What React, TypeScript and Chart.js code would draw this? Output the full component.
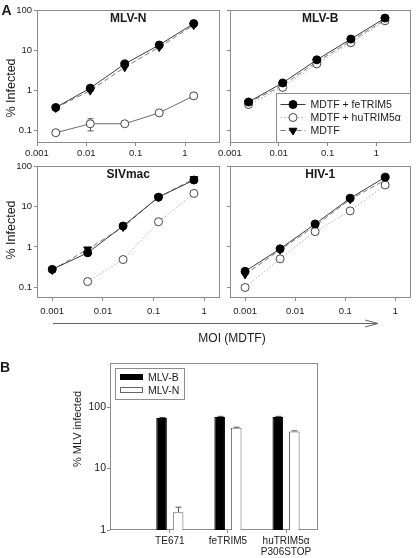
import React, { useEffect, useRef } from "react";
import { Chart, registerables } from "chart.js";

Chart.register(...registerables);

const FONT = "'Liberation Sans', Arial, Helvetica, sans-serif";
const TEXT = "#1a1a1a";
const AXIS = "#8c8c8c";

// ---------- Panel A data ----------
const X_TICKS_A = [0.001, 0.01, 0.1, 1];
const Y_TICKS_A = [0.1, 1, 10, 100];
const MOI_TOP = [0.0024, 0.012, 0.06, 0.3, 1.5];
const MOI_BOTTOM = [0.001, 0.005, 0.025, 0.125, 0.625];

const SERIES_LABELS = ["MDTF + feTRIM5", "MDTF + huTRIM5\u03b1", "MDTF"];

const MLVN_FE = [0.38, 1.15, 4.6, 13.5, 46];
const MLVN_HU = [0.09, 0.15, 0.15, 0.28, 0.74];
const MLVN_HU_ERR = [0, 0.05, 0, 0, 0];
const MLVN_MDTF = [0.37, 1.0, 3.8, 12, 42];

const MLVB_FE = [0.52, 1.55, 5.8, 19, 63];
const MLVB_HU = [0.45, 1.2, 4.6, 15.4, 54];
const MLVB_MDTF = [0.5, 1.35, 5.2, 17, 57];

const SIV_FE = [0.28, 0.72, 3.3, 17, 45];
const SIV_HU = [null, 0.14, 0.49, 4.2, 21];
const SIV_MDTF = [0.27, 0.88, 3.1, 17, 48];

const HIV_FE = [0.25, 0.9, 3.7, 16, 53];
const HIV_HU = [0.1, 0.51, 2.4, 7.8, 34];
const HIV_MDTF = [0.21, 0.85, 3.3, 15, 45];

// ---------- Panel B data ----------
const B_CATEGORIES: (string | string[])[] = ["TE671", "feTRIM5", ["huTRIM5\u03b1", "P306STOP"]];
const B_SERIES = ["MLV-B", "MLV-N"];
const B_MLVB = [66, 69, 69];
const B_MLVB_ERR = [1.5, 1.5, 1.5];
const B_MLVN = [1.95, 46, 40];
const B_MLVN_ERR = [0.4, 1, 1];
const Y_TICKS_B = [1, 10, 100];

// ---------- helpers ----------
const xy = (xs: number[], ys: (number | null)[]) => ys.map((y, i) => ({ x: xs[i], y }));

function drawMarker(ctx: CanvasRenderingContext2D, style: string, x: number, y: number, r: number, fill: string, stroke: string, rotDeg: number) {
  ctx.beginPath();
  if (style === "triangle") {
    let rad = (rotDeg * Math.PI) / 180;
    const step = (2 * Math.PI) / 3;
    ctx.moveTo(x + Math.sin(rad) * r, y - Math.cos(rad) * r);
    rad += step;
    ctx.lineTo(x + Math.sin(rad) * r, y - Math.cos(rad) * r);
    rad += step;
    ctx.lineTo(x + Math.sin(rad) * r, y - Math.cos(rad) * r);
    ctx.closePath();
  } else {
    ctx.arc(x, y, r, 0, Math.PI * 2);
  }
  ctx.fillStyle = fill;
  ctx.fill();
  ctx.lineWidth = 1;
  ctx.strokeStyle = stroke;
  ctx.setLineDash([]);
  ctx.stroke();
}

function makeLineDatasets(xs: number[], fe: (number | null)[], hu: (number | null)[], mdtf: (number | null)[], huErr?: number[], huSolid?: boolean) {
  return [
    {
      label: SERIES_LABELS[0],
      data: xy(xs, fe),
      borderColor: "#3a3a3a",
      borderWidth: 1,
      borderDash: [],
      pointStyle: "circle",
      pointRotation: 0,
      pointRadius: 4,
      pointBackgroundColor: "#000",
      pointBorderColor: "#000",
      pointBorderWidth: 1,
    },
    {
      label: SERIES_LABELS[1],
      data: xy(xs, hu),
      errors: huErr,
      borderColor: huSolid ? "#6a6a6a" : "#b0b0b0",
      borderWidth: 1,
      borderDash: huSolid ? [] : [1.5, 2],
      legendDash: [1.5, 2],
      legendColor: "#b0b0b0",
      pointStyle: "circle",
      pointRotation: 0,
      pointRadius: 4,
      pointBackgroundColor: "#fff",
      pointBorderColor: "#444",
      pointBorderWidth: 1,
    },
    {
      label: SERIES_LABELS[2],
      data: xy(xs, mdtf),
      borderColor: "#7a7a7a",
      borderWidth: 1,
      borderDash: [5, 3],
      pointStyle: "triangle",
      pointRotation: 180,
      pointRadius: 4.5,
      pointBackgroundColor: "#000",
      pointBorderColor: "#000",
      pointBorderWidth: 1,
    },
  ];
}

const boxPlugin = {
  id: "box",
  beforeDatasetsDraw(chart: any) {
    const { ctx, chartArea: a } = chart;
    ctx.save();
    ctx.strokeStyle = AXIS;
    ctx.lineWidth = 1;
    ctx.setLineDash([]);
    ctx.strokeRect(Math.round(a.left) + 0.5, Math.round(a.top) + 0.5, Math.round(a.right - a.left) - 1, Math.round(a.bottom - a.top) - 1);
    ctx.restore();
  },
};

const errorPlugin = {
  id: "errbars",
  beforeDatasetsDraw(chart: any) {
    const ctx = chart.ctx;
    const ys = chart.scales.y;
    chart.data.datasets.forEach((ds: any, i: number) => {
      if (!ds.errors) return;
      const meta = chart.getDatasetMeta(i);
      meta.data.forEach((el: any, j: number) => {
        const e = ds.errors[j];
        const d = ds.data[j];
        if (!e || !d || d.y == null) return;
        const v = d.y;
        const yTop = ys.getPixelForValue(v + e);
        const yBot = ds.errorUpOnly ? ys.getPixelForValue(v) : ys.getPixelForValue(v - e);
        const x = Math.round(el.x) + 0.5;
        const cap = ds.errorCap || 3;
        ctx.save();
        ctx.strokeStyle = ds.errorColor || "#555";
        ctx.lineWidth = 1;
        ctx.setLineDash([]);
        ctx.beginPath();
        ctx.moveTo(x, yBot);
        ctx.lineTo(x, yTop);
        ctx.moveTo(x - cap, yTop);
        ctx.lineTo(x + cap, yTop);
        if (!ds.errorUpOnly) {
          ctx.moveTo(x - cap, yBot);
          ctx.lineTo(x + cap, yBot);
        }
        ctx.stroke();
        ctx.restore();
      });
    });
  },
};

function titlePlugin(text: string) {
  return {
    id: "ptitle",
    afterDraw(chart: any) {
      const { ctx, chartArea: a } = chart;
      ctx.save();
      ctx.font = `bold 12px ${FONT}`;
      ctx.fillStyle = TEXT;
      ctx.textAlign = "center";
      ctx.textBaseline = "alphabetic";
      ctx.fillText(text, (a.left + a.right) / 2, a.top + 12);
      ctx.restore();
    },
  };
}

const lineLegendPlugin = {
  id: "lineLegend",
  afterDraw(chart: any) {
    const { ctx, chartArea: a } = chart;
    const w = 135;
    const h = 50;
    const left = a.right - w;
    const top = a.bottom - h;
    ctx.save();
    ctx.fillStyle = "#fff";
    ctx.fillRect(left, top, w, h);
    ctx.strokeStyle = AXIS;
    ctx.lineWidth = 1;
    ctx.strokeRect(Math.round(left) + 0.5, Math.round(top) + 0.5, w - 1, h - 1);
    chart.data.datasets.forEach((ds: any, i: number) => {
      const base = top + 15 + i * 13;
      const cy = base - 4;
      ctx.beginPath();
      ctx.strokeStyle = ds.legendColor || ds.borderColor;
      ctx.setLineDash(ds.legendDash || ds.borderDash || []);
      ctx.lineWidth = 1;
      ctx.moveTo(left + 5, cy + 0.5);
      ctx.lineTo(left + 30, cy + 0.5);
      ctx.stroke();
      drawMarker(ctx, ds.pointStyle, left + 17.5, cy + 0.5, ds.pointRadius, ds.pointBackgroundColor, ds.pointBorderColor, ds.pointRotation);
      ctx.font = `10.5px ${FONT}`;
      ctx.fillStyle = TEXT;
      ctx.textAlign = "left";
      ctx.textBaseline = "alphabetic";
      ctx.fillText(ds.label, left + 35, base);
    });
    ctx.restore();
  },
};

type LinePanelProps = {
  left: number;
  top: number;
  width: number;
  height: number;
  padTop: number;
  padRight: number;
  yAxisWidth: number;
  xAxisHeight: number;
  xTickPad: number;
  xMin: number;
  xMax: number;
  yMin: number;
  yMax: number;
  title: string;
  build: () => any[];
  yLabels: boolean;
  legend?: boolean;
};

function LinePanel(p: LinePanelProps) {
  const ref = useRef<HTMLCanvasElement>(null);
  useEffect(() => {
    const plugins: any[] = [boxPlugin, errorPlugin, titlePlugin(p.title)];
    if (p.legend) plugins.push(lineLegendPlugin);
    const chart = new Chart(ref.current as HTMLCanvasElement, {
      type: "line",
      data: { datasets: p.build() as any },
      options: {
        responsive: false,
        animation: false,
        events: [],
        layout: { padding: { top: p.padTop, right: p.padRight, left: 0, bottom: 0 } },
        plugins: { legend: { display: false }, tooltip: { enabled: false } },
        elements: { line: { tension: 0 } },
        scales: {
          x: {
            type: "logarithmic",
            min: p.xMin,
            max: p.xMax,
            afterBuildTicks: (s: any) => {
              s.ticks = X_TICKS_A.map((v) => ({ value: v }));
            },
            afterFit: (s: any) => {
              s.height = p.xAxisHeight;
            },
            ticks: {
              autoSkip: false,
              maxRotation: 0,
              padding: p.xTickPad,
              color: TEXT,
              font: { family: FONT, size: 9.5 },
              callback: (v: any) => String(v),
            },
            grid: { display: true, drawOnChartArea: false, drawTicks: true, tickLength: 3, color: AXIS },
            border: { display: false },
          },
          y: {
            type: "logarithmic",
            min: p.yMin,
            max: p.yMax,
            afterBuildTicks: (s: any) => {
              s.ticks = Y_TICKS_A.map((v) => ({ value: v }));
            },
            afterFit: (s: any) => {
              s.width = p.yAxisWidth;
            },
            ticks: {
              autoSkip: false,
              padding: 2,
              color: TEXT,
              font: { family: FONT, size: 9.5 },
              callback: (v: any) => (p.yLabels ? String(v) : ""),
            },
            grid: { display: true, drawOnChartArea: false, drawTicks: true, tickLength: 3, color: AXIS },
            border: { display: false },
          },
        },
      } as any,
      plugins,
    });
    return () => chart.destroy();
  }, []);
  return (
    <canvas
      ref={ref}
      width={p.width}
      height={p.height}
      style={{ position: "absolute", left: p.left, top: p.top, width: p.width, height: p.height }}
    />
  );
}

const barLegendPlugin = {
  id: "barLegend",
  afterDraw(chart: any) {
    const { ctx, chartArea: a } = chart;
    const left = a.left + 5;
    const top = a.top + 5;
    const w = 70;
    const h = 32;
    ctx.save();
    ctx.fillStyle = "#fff";
    ctx.fillRect(left, top, w, h);
    ctx.strokeStyle = AXIS;
    ctx.lineWidth = 1;
    ctx.strokeRect(Math.round(left) + 0.5, Math.round(top) + 0.5, w - 1, h - 1);
    chart.data.datasets.forEach((ds: any, i: number) => {
      const cy = top + 8.5 + i * 13;
      ctx.fillStyle = ds.backgroundColor;
      ctx.fillRect(left + 5, cy - 2.5, 23, 5);
      ctx.strokeStyle = ds.borderColor;
      ctx.strokeRect(Math.round(left + 5) + 0.5, Math.round(cy - 2.5) + 0.5, 22, 5);
      ctx.font = `10.5px ${FONT}`;
      ctx.fillStyle = TEXT;
      ctx.textAlign = "left";
      ctx.textBaseline = "alphabetic";
      ctx.fillText(ds.label, left + 33, cy + 4);
    });
    ctx.restore();
  },
};

function BarPanel() {
  const ref = useRef<HTMLCanvasElement>(null);
  useEffect(() => {
    const chart = new Chart(ref.current as HTMLCanvasElement, {
      type: "bar",
      data: {
        datasets: [
          {
            label: B_SERIES[0],
            data: B_MLVB.map((v, i) => ({ x: i + 1, y: v })),
            errors: B_MLVB_ERR,
            errorUpOnly: true,
            errorCap: 3,
            errorColor: "#444",
            backgroundColor: "#000",
            borderColor: "#000",
            borderWidth: 1,
          },
          {
            label: B_SERIES[1],
            data: B_MLVN.map((v, i) => ({ x: i + 1, y: v })),
            errors: B_MLVN_ERR,
            errorUpOnly: true,
            errorCap: 3,
            errorColor: "#555",
            backgroundColor: "#fff",
            borderColor: "#666",
            borderWidth: 1,
          },
        ] as any,
      },
      options: {
        responsive: false,
        animation: false,
        events: [],
        categoryPercentage: 0.57,
        barPercentage: 0.64,
        layout: { padding: { top: 13, right: 2, left: 0, bottom: 0 } },
        plugins: { legend: { display: false }, tooltip: { enabled: false } },
        scales: {
          x: {
            type: "linear",
            min: -0.03,
            max: 3.55,
            offset: false,
            afterBuildTicks: (s: any) => {
              s.ticks = B_CATEGORIES.map((_, i) => ({ value: i + 1 }));
            },
            afterFit: (s: any) => {
              s.height = 28;
            },
            ticks: {
              autoSkip: false,
              maxRotation: 0,
              padding: 3,
              color: TEXT,
              font: { family: FONT, size: 10, lineHeight: 1.1 },
              callback: (v: any) => B_CATEGORIES[Math.round(v) - 1] ?? "",
            },
            grid: { display: true, offset: false, drawOnChartArea: false, drawTicks: true, tickLength: 3, color: AXIS },
            border: { display: false },
          },
          y: {
            type: "logarithmic",
            min: 1,
            max: 520,
            afterBuildTicks: (s: any) => {
              s.ticks = Y_TICKS_B.map((v) => ({ value: v }));
            },
            afterFit: (s: any) => {
              s.width = 50;
            },
            ticks: {
              autoSkip: false,
              padding: 1,
              color: TEXT,
              font: { family: FONT, size: 10.5 },
              callback: (v: any) => String(v),
            },
            grid: { display: true, drawOnChartArea: false, drawTicks: true, tickLength: 3, color: AXIS },
            border: { display: false },
          },
        },
      } as any,
      plugins: [boxPlugin, errorPlugin, barLegendPlugin],
    });
    return () => chart.destroy();
  }, []);
  return (
    <canvas ref={ref} width={260} height={208} style={{ position: "absolute", left: 60, top: 350, width: 260, height: 208 }} />
  );
}

export default function App() {
  return (
    <div style={{ position: "absolute", left: 0, top: 0, width: 416, height: 558, background: "#fff", overflow: "hidden" }}>
      <LinePanel
        left={0} top={0} width={225} height={161} padTop={10} padRight={2}
        yAxisWidth={37} xAxisHeight={18} xTickPad={2}
        xMin={0.001} xMax={5} yMin={0.05} yMax={100}
        title="MLV-N" yLabels={true}
        build={() => makeLineDatasets(MOI_TOP, MLVN_FE, MLVN_HU, MLVN_MDTF, MLVN_HU_ERR, true)}
      />
      <LinePanel
        left={212} top={0} width={204} height={161} padTop={10} padRight={1}
        yAxisWidth={18} xAxisHeight={18} xTickPad={2}
        xMin={0.001} xMax={5} yMin={0.05} yMax={100}
        title="MLV-B" yLabels={false} legend={true}
        build={() => makeLineDatasets(MOI_TOP, MLVB_FE, MLVB_HU, MLVB_MDTF)}
      />
      <LinePanel
        left={0} top={148} width={225} height={168} padTop={18} padRight={2}
        yAxisWidth={37} xAxisHeight={18} xTickPad={5}
        xMin={0.0005} xMax={2} yMin={0.055} yMax={100}
        title="SIVmac" yLabels={true}
        build={() => makeLineDatasets(MOI_BOTTOM, SIV_FE, SIV_HU, SIV_MDTF)}
      />
      <LinePanel
        left={212} top={148} width={204} height={168} padTop={18} padRight={1}
        yAxisWidth={18} xAxisHeight={18} xTickPad={5}
        xMin={0.0005} xMax={2} yMin={0.055} yMax={100}
        title="HIV-1" yLabels={false}
        build={() => makeLineDatasets(MOI_BOTTOM, HIV_FE, HIV_HU, HIV_MDTF)}
      />
      <BarPanel />
      <svg width={416} height={558} style={{ position: "absolute", left: 0, top: 0, pointerEvents: "none" }}>
        <g fontFamily={FONT} fill={TEXT}>
          <text x={1.5} y={15} fontSize={14} fontWeight="bold">A</text>
          <text x={0} y={372} fontSize={14} fontWeight="bold">B</text>
          <text transform="translate(15,88) rotate(-90)" fontSize={12.5} textAnchor="middle">% Infected</text>
          <text transform="translate(15,230) rotate(-90)" fontSize={12.5} textAnchor="middle">% Infected</text>
          <text transform="translate(81,429) rotate(-90)" fontSize={11} textAnchor="middle">% MLV infected</text>
          <text x={232} y={342} fontSize={12} textAnchor="middle">MOI (MDTF)</text>
        </g>
        <path d="M53 323.5 H378 M365 320 L378 323.5 L365 327" stroke="#666" strokeWidth={1} fill="none" />
      </svg>
    </div>
  );
}
